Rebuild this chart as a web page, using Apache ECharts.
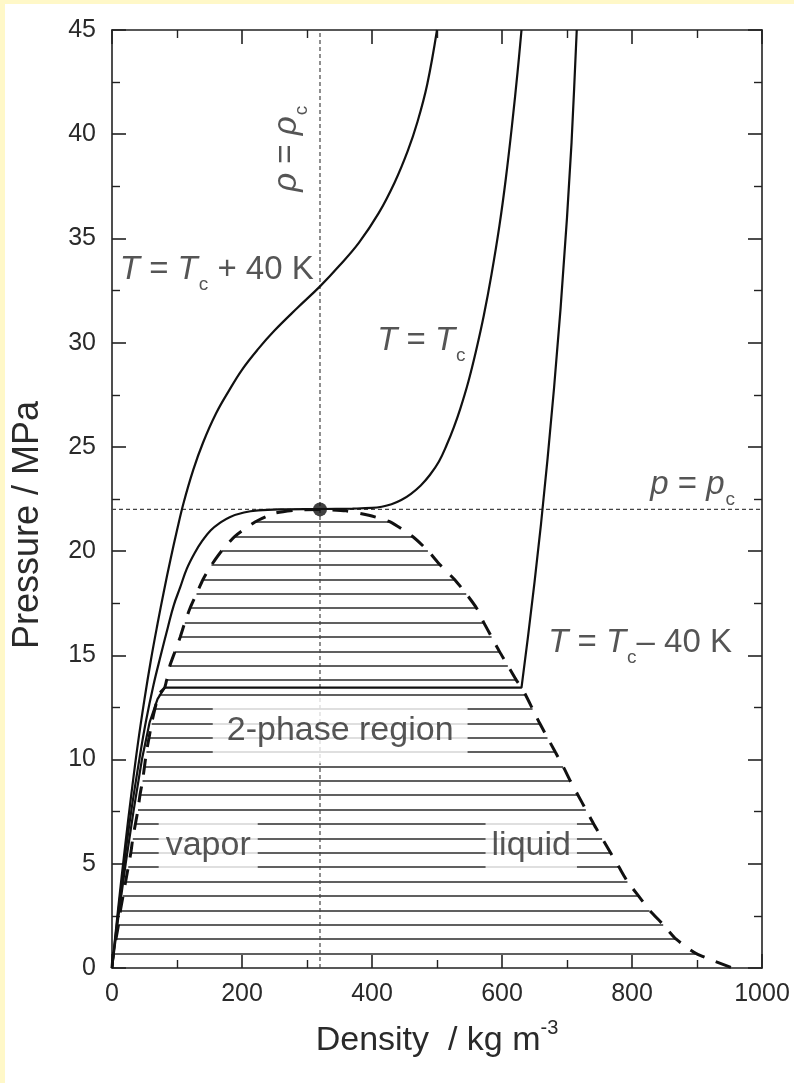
<!DOCTYPE html>
<html>
<head>
<meta charset="utf-8">
<title>Water p-rho diagram</title>
<script src="https://cdn.jsdelivr.net/npm/echarts@6/dist/echarts.min.js"></script>
<style>
  html, body { margin: 0; padding: 0; background: #fff; }
  #chart { width: 794px; height: 1083px; }
</style>
</head>
<body>
<div id="chart"></div>
<script>
// values: density in kg m^-3, pressure in MPa
var rhoC = 320;
var pC = 22.0;

// tie lines across the 2-phase dome
var tiePressure = [0.69, 1.38, 2.08, 2.77, 3.46, 4.15, 4.84, 5.53, 6.22, 6.91, 7.60, 8.29, 8.98, 9.67, 10.36,
  11.05, 11.74, 12.43, 13.12, 13.81, 14.50, 15.19, 15.88, 16.57, 17.26, 17.95, 18.64, 19.33, 20.02, 20.71, 21.40];
var tieVapor = [2, 6, 10, 13, 17, 21, 25, 29, 32, 36, 40, 43, 47, 50, 53,
  57, 61, 66, 72, 84, 89, 97, 105, 112, 120, 130, 140, 153, 169, 189, 220];
var tieLiquid = [899, 868, 848, 827, 810, 793, 780, 767, 754, 741, 729, 717, 705, 694, 682,
  670, 658, 647, 636, 622, 609, 596, 584, 572, 561, 545, 527, 505, 486, 462, 428];

// coexistence curve (vapor branch, then liquid branch)
var satVapor = [[0, 0], [2, 0.69], [6, 1.38], [10, 2.08], [13, 2.77], [17, 3.46], [21, 4.15], [25, 4.84],
  [29, 5.53], [32, 6.22], [36, 6.91], [40, 7.6], [43, 8.29], [47, 8.98], [50, 9.67], [53, 10.36], [57, 11.05],
  [61, 11.74], [66, 12.43], [72, 13.12], [81, 13.45], [84, 13.81], [89, 14.5], [97, 15.19], [105, 15.88],
  [112, 16.57], [120, 17.26], [130, 17.95], [140, 18.64], [153, 19.33], [169, 20.02], [189, 20.71], [220, 21.4],
  [250, 21.82], [285, 21.97], [320, 22.0]];
var satLiquid = [[360, 21.93], [395, 21.72], [428, 21.4], [462, 20.71], [486, 20.02], [505, 19.33], [527, 18.64],
  [545, 17.95], [561, 17.26], [572, 16.57], [584, 15.88], [596, 15.19], [609, 14.5], [622, 13.81], [630, 13.45],
  [636, 13.12], [647, 12.43], [658, 11.74], [670, 11.05], [682, 10.36], [694, 9.67], [705, 8.98], [717, 8.29],
  [729, 7.6], [741, 6.91], [754, 6.22], [767, 5.53], [780, 4.84], [793, 4.15], [810, 3.46], [827, 2.77],
  [848, 2.08], [868, 1.38], [899, 0.69], [955, 0]];

// isotherms
var isoHot = [[0, 0], [10, 3.0], [20, 5.8], [30, 8.4], [40, 10.8], [50, 12.9], [60, 14.8], [70, 16.5], [80, 18.1],
  [90, 19.6], [100, 21.0], [110, 22.3], [125, 23.9], [140, 25.2], [160, 26.6], [180, 27.7], [200, 28.7],
  [225, 29.7], [250, 30.58], [285, 31.66], [320, 32.7], [350, 33.7], [380, 34.8], [410, 36.2], [435, 37.7],
  [455, 39.2], [470, 40.6], [485, 42.4], [500, 45]];
var isoCrit = [[0, 0], [9, 2.5], [18.6, 5], [29.5, 7.5], [42, 10], [52, 11.8], [64, 13.6], [75, 15], [86, 16.35],
  [95, 17.4], [105, 18.27], [115, 19.15], [127, 19.9], [139, 20.5], [152, 21.0], [166, 21.35], [181, 21.63],
  [203, 21.85], [225, 21.95], [260, 22.0], [320, 22.02], [370, 22.04], [400, 22.07], [415, 22.13], [430, 22.25],
  [445, 22.45], [460, 22.75], [475, 23.15], [489, 23.65], [503, 24.3], [515, 25.1], [526, 25.95], [536, 26.85],
  [548, 28.1], [560, 29.6], [572, 31.3], [584, 33.3], [596, 35.6], [606, 37.9], [616, 40.6], [624, 43.0], [630, 45]];
var isoCold = [[0, 0], [10, 2.5], [21, 5], [33, 7.5], [46, 10], [58, 11.8], [70, 12.9], [81, 13.45],
  [630, 13.45], [640, 15.9], [650, 18.5], [660, 21.3], [670, 24.4], [680, 27.8], [690, 31.6], [700, 36.0],
  [707, 39.6], [711, 42.2], [715, 45]];

var font = '"Liberation Sans", Arial, Helvetica, sans-serif';
var ink = '#2a2a2a';

var tieData = tiePressure.map(function (p, i) {
  return { coords: [[tieVapor[i], p], [tieLiquid[i], p]] };
});

var subStyle = { fontSize: 19, fontFamily: font, color: ink, padding: [30, 0, 0, 1] };
var itStyle = { fontStyle: 'italic', fontSize: 33, fontFamily: font, color: ink };
var boxLabel = { backgroundColor: '#fff', fontSize: 34, color: ink, fontFamily: font };

function frameAxis(pos, min, max, interval) {
  return {
    type: 'value', position: pos, min: min, max: max, interval: interval,
    axisLine: { onZero: false, lineStyle: { color: '#222', width: 1.6 } },
    axisTick: { inside: true, length: 14, lineStyle: { color: '#222', width: 1.6 } },
    minorTick: { show: true, splitNumber: 2, length: 8, lineStyle: { color: '#222', width: 1.4 } },
    axisLabel: { show: false },
    splitLine: { show: false }
  };
}

var xMain = frameAxis('bottom', 0, 1000, 200);
xMain.name = 'Density  / kg m{sup|-3}';
xMain.nameLocation = 'middle';
xMain.nameGap = 50;
xMain.nameTextStyle = {
  fontSize: 34, color: ink, fontFamily: font, verticalAlign: 'top',
  rich: { sup: { fontSize: 20, color: ink, fontFamily: font, padding: [0, 0, 26, 0] } }
};
xMain.axisLabel = { show: true, fontSize: 25, color: ink, fontFamily: font, margin: 14,
  formatter: function (v) { return String(v); } };

var yMain = frameAxis('left', 0, 45, 5);
yMain.name = 'Pressure / MPa';
yMain.nameLocation = 'middle';
yMain.nameGap = 66;
yMain.nameRotate = 90;
yMain.nameTextStyle = { fontSize: 36, color: ink, fontFamily: font, padding: [0, 52, 0, 0] };
yMain.axisLabel = { show: true, fontSize: 25, color: ink, fontFamily: font, margin: 16 };

var myChart = echarts.init(document.getElementById('chart'));

var option = {
  backgroundColor: '#fff',
  animation: false,
  graphic: [
    { type: 'rect', left: 0, top: 0, shape: { width: 5, height: 1083 }, style: { fill: '#fff8c8' } },
    { type: 'rect', left: 0, top: 0, shape: { width: 794, height: 4 }, style: { fill: '#fff8c8' } }
  ],
  grid: { left: 112, right: 32, top: 30, bottom: 115 },
  xAxis: [xMain, frameAxis('top', 0, 1000, 200)],
  yAxis: [yMain, frameAxis('right', 0, 45, 5)],
  series: [
    {
      // tie lines
      type: 'lines', coordinateSystem: 'cartesian2d', z: 2, silent: true,
      lineStyle: { color: '#606060', width: 1.8, opacity: 1, curveness: 0 },
      data: tieData
    },
    {
      // rho = rho_c
      type: 'line', z: 3, symbol: 'none', silent: true,
      lineStyle: { color: '#444', width: 1.2, type: [4, 3] },
      data: [[rhoC, 0], [rhoC, 45]]
    },
    {
      // p = p_c
      type: 'line', z: 3, symbol: 'none', silent: true,
      lineStyle: { color: '#444', width: 1.2, type: [4, 3] },
      data: [[0, pC], [1000, pC]]
    },
    {
      // coexistence curve
      type: 'line', z: 4, symbol: 'none', smooth: 0.2,
      lineStyle: { color: '#111', width: 3, type: [16, 12] },
      data: satVapor.concat(satLiquid)
    },
    {
      type: 'line', name: 'T = Tc + 40 K', z: 4, symbol: 'none', smooth: 0.4,
      lineStyle: { color: '#111', width: 2.2 },
      data: isoHot
    },
    {
      type: 'line', name: 'T = Tc', z: 4, symbol: 'none', smooth: 0.4,
      lineStyle: { color: '#111', width: 2.2 },
      data: isoCrit
    },
    {
      type: 'line', name: 'T = Tc - 40 K', z: 4, symbol: 'none',
      lineStyle: { color: '#111', width: 2.2 },
      data: isoCold
    },
    {
      // critical point
      type: 'scatter', z: 6, symbol: 'circle', symbolSize: 14,
      itemStyle: { color: '#111' },
      data: [[rhoC, pC]]
    },
    {
      // text annotations
      type: 'scatter', z: 5, symbolSize: 0, silent: true,
      label: {
        show: true, position: 'inside', align: 'left', verticalAlign: 'middle',
        fontSize: 33, color: ink, fontFamily: font,
        rich: { i: itStyle, s: subStyle }
      },
      data: [
        { value: [12, 33.5], label: { formatter: '{i|T} = {i|T}{s|c} + 40 K' } },
        { value: [408, 30.1], label: { formatter: '{i|T} = {i|T}{s|c}' } },
        { value: [671, 15.6], label: { formatter: '{i|T} = {i|T}{s|c}– 40 K' } },
        { value: [828, 23.2], label: { formatter: '{i|p} = {i|p}{s|c}' } },
        { value: [269, 39.3], label: { formatter: '{i|ρ} = {i|ρ}{s|c}', rotate: 90, align: 'center' } },
        { value: [351, 11.4], label: Object.assign({ formatter: '2-phase region', align: 'center', padding: [16, 14] }, boxLabel) },
        { value: [148, 5.88], label: Object.assign({ formatter: 'vapor', align: 'center', padding: [14, 7] }, boxLabel) },
        { value: [645, 5.88], label: Object.assign({ formatter: 'liquid', align: 'center', padding: [14, 6] }, boxLabel) }
      ]
    }
  ]
};

myChart.setOption(option);
window.addEventListener('resize', function () {
  myChart.resize();
});
</script>
</body>
</html>
